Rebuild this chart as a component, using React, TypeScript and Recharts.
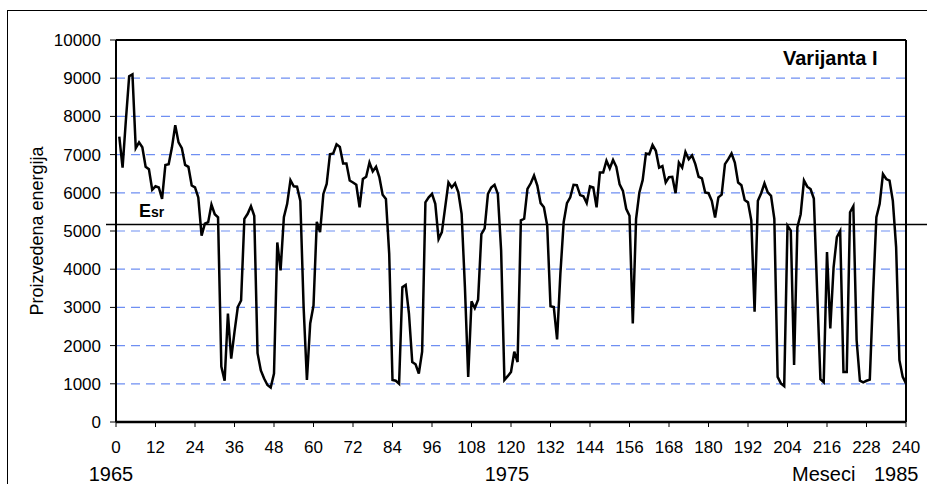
import React from 'react'
import {
  LineChart,
  Line,
  XAxis,
  YAxis,
  CartesianGrid,
  ReferenceLine,
} from 'recharts'

const FONT = '"Liberation Sans", Arial, sans-serif'

// monthly produced energy, months 1..240 (1965-1985)
const energy = [
  7470, 6660, 7900, 9050, 9100, 7170, 7320, 7190, 6680, 6620,
  6080, 6170, 6140, 5840, 6730, 6750, 7190, 7770, 7320, 7170,
  6730, 6680, 6190, 6140, 5880, 4880, 5190, 5230, 5690, 5440,
  5360, 1450, 1080, 2840, 1660, 2360, 3010, 3180, 5320, 5450,
  5650, 5400, 1800, 1350, 1140, 970, 900, 1270, 4700, 3970,
  5360, 5710, 6330, 6170, 6160, 5790, 3000, 1100, 2580, 3050,
  5240, 4970, 5970, 6230, 7010, 7030, 7270, 7200, 6770, 6770,
  6320, 6270, 6210, 5620, 6360, 6420, 6790, 6560, 6680, 6410,
  5950, 5840, 4400, 1100, 1080, 1000, 3530, 3590, 2840, 1570,
  1510, 1270, 1840, 5750, 5880, 5970, 5710, 4790, 4970, 5620,
  6270, 6140, 6250, 6010, 5450, 3530, 1180, 3160, 2980, 3200,
  4920, 5070, 5970, 6140, 6210, 5970, 4490, 1100, 1200, 1310,
  1840, 1570, 5280, 5320, 6100, 6250, 6450, 6190, 5730, 5620,
  5140, 3030, 3010, 2160, 3880, 5230, 5730, 5880, 6210, 6200,
  5940, 5910, 5730, 6170, 6140, 5620, 6530, 6530, 6840, 6640,
  6860, 6680, 6220, 6050, 5580, 5400, 2580, 5320, 6010, 6330,
  7030, 7010, 7250, 7100, 6660, 6700, 6270, 6410, 6420, 5990,
  6790, 6660, 7070, 6880, 6980, 6750, 6420, 6380, 6010, 5990,
  5790, 5350, 5880, 5950, 6750, 6880, 7030, 6790, 6270, 6200,
  5810, 5750, 5280, 2890, 5790, 5990, 6250, 6010, 5920, 5320,
  1180, 1010, 940, 5140, 5010, 1490, 5100, 5440, 6320, 6160,
  6100, 5850, 3440, 1120, 1040, 4450, 2450, 4050, 4840, 5000,
  1310, 1310, 5490, 5650, 2140, 1080, 1040, 1080, 1110, 3360,
  5360, 5710, 6490, 6360, 6320, 5790, 4580, 1620, 1180, 1010,
]

const xTicks = [0, 12, 24, 36, 48, 60, 72, 84, 96, 108, 120, 132, 144, 156, 168, 180, 192, 204, 216, 228, 240]
const yTicks = [0, 1000, 2000, 3000, 4000, 5000, 6000, 7000, 8000, 9000, 10000]
const ESR = 5170
const X_MAX = 240
const Y_MAX = 10000

const data = energy.map((v, i) => ({ month: i + 1, energy: v }))

const tickStyle = { fontSize: 17, fill: '#000', fontFamily: FONT }

function EsrShape(p: any) {
  return (
    <g>
      <line x1={p.x1 - 10} y1={p.y1} x2={927} y2={p.y2} stroke="#000" strokeWidth={1.5} />
      <text x={p.x1 + 23} y={p.y1 - 8} fontFamily={FONT} fontWeight="bold" fontSize={18} fill="#000">
        E<tspan fontSize={14}>sr</tspan>
      </text>
    </g>
  )
}

export default function App() {
  return (
    <div style={{ position: 'absolute', left: 0, top: 0, width: 927, height: 484, background: '#fff' }}>
      <LineChart
        width={927}
        height={484}
        data={data}
        margin={{ top: 40, right: 21, bottom: 0, left: 0 }}
      >
        <CartesianGrid
          vertical={false}
          horizontalValues={[1000, 2000, 3000, 4000, 5000, 6000, 7000, 8000, 9000]}
          stroke="#6f8ff2"
          strokeDasharray="9 6"
          strokeWidth={1.2}
        />
        <XAxis
          dataKey="month"
          type="number"
          domain={[0, X_MAX]}
          ticks={xTicks}
          interval={0}
          height={62}
          tick={tickStyle}
          tickSize={5}
          tickMargin={14}
          tickLine={{ stroke: '#000' }}
          axisLine={{ stroke: '#000', strokeWidth: 2.5 }}
        />
        <YAxis
          domain={[0, Y_MAX]}
          ticks={yTicks}
          interval={0}
          width={116}
          tick={tickStyle}
          tickSize={6}
          tickMargin={9}
          tickLine={{ stroke: '#000' }}
          axisLine={{ stroke: '#000', strokeWidth: 2 }}
        />
        {/* plot frame */}
        <ReferenceLine y={Y_MAX} stroke="#000" strokeWidth={2} ifOverflow="visible" />
        <ReferenceLine x={X_MAX} stroke="#000" strokeWidth={2} ifOverflow="visible" />
        <ReferenceLine y={ESR} ifOverflow="visible" shape={EsrShape} />
        <Line
          type="linear"
          dataKey="energy"
          stroke="#000"
          strokeWidth={2.5}
          dot={false}
          isAnimationActive={false}
        />
      </LineChart>
      <svg
        width={927}
        height={484}
        style={{ position: 'absolute', left: 0, top: 0, pointerEvents: 'none' }}
      >
        <rect x={7.5} y={10.5} width={925} height={480} fill="none" stroke="#000" strokeWidth={1} />
        <text
          transform="translate(37,231) rotate(-90)"
          textAnchor="middle"
          dominantBaseline="central"
          fontFamily={FONT}
          fontSize={18}
          fill="#000"
        >
          Proizvedena energija
        </text>
        <text x={783} y={65} fontFamily={FONT} fontWeight="bold" fontSize={20} fill="#000">
          Varijanta I
        </text>
        <text x={111} y={481} textAnchor="middle" fontFamily={FONT} fontSize={20} fill="#000">1965</text>
        <text x={507} y={481} textAnchor="middle" fontFamily={FONT} fontSize={20} fill="#000">1975</text>
        <text x={792} y={481} fontFamily={FONT} fontSize={20} fill="#000">Meseci</text>
        <text x={874} y={481} fontFamily={FONT} fontSize={20} fill="#000">1985</text>
      </svg>
    </div>
  )
}
